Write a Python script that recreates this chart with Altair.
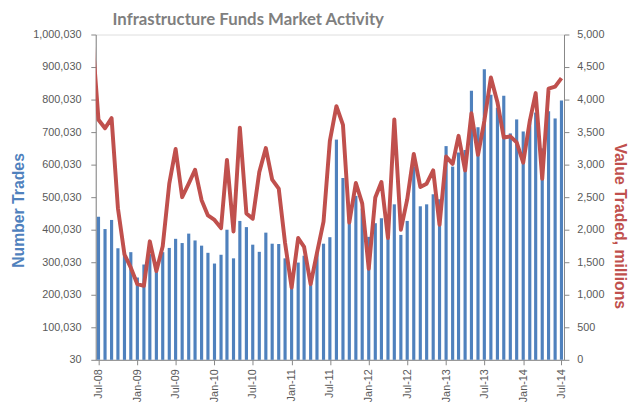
import altair as alt
import pandas as pd

# Monthly categories Jul-08 .. Jul-14
years_months = [(2008 + (6 + i) // 12, (6 + i) % 12 + 1) for i in range(73)]
dates = [f"{y}/{m:02d}/01" for y, m in years_months]

# Number of trades (thousands)
trades_k = [440, 402, 430, 343, 330, 331, 253, 293, 325, 300, 331, 344,
            372, 359, 388, 367, 351, 329, 296, 323, 400, 312, 427, 408,
            354, 332, 391, 357, 356, 312, 230, 299, 320, 240, 330, 357,
            377, 677, 559, 440, 504, 465, 378, 420, 435, 372, 478, 384,
            427, 595, 472, 478, 509, 494, 657, 594, 637, 645, 827, 715,
            893, 815, 775, 812, 696, 739, 702, 740, 760, 650, 764, 742,
            797]

# Value traded (millions)
value_m = [3690, 3559, 3715, 2330, 1619, 1416, 1163, 1137, 1821, 1365, 1745, 2708,
           3240, 2500, 2708, 2921, 2454, 2220, 2150, 2024, 3072, 1973, 3569, 2250,
           2170, 2885, 3255, 2769, 2632, 1796, 1112, 1872, 1735, 1163, 1644, 2125,
           3367, 3899, 3610, 2110, 2718, 2404, 1400, 2495, 2733, 1872, 3696, 2000,
           2465, 3164, 2657, 2708, 2911, 2075, 3124, 3012, 3443, 2911, 3790, 3150,
           3670, 4339, 3960, 3417, 3435, 3342, 3030, 3670, 4100, 2783, 4170, 4200,
           4330]

# preceding month (outside the axis range, clipped)
lead_date = "2008/06/01"
lead_value = 5000

left_ticks = [30 + 100000 * i for i in range(11)]
right_ticks = [500 * i for i in range(11)]

bars_df = pd.DataFrame({"date": dates, "trades": [v * 1000 for v in trades_k]})
line_df = pd.DataFrame({"date": [lead_date] + dates, "value": [lead_value] + value_m})

GRAY = "#595959"
AXIS = "#868686"
BLUE = "#4f81bd"
RED = "#c0504d"

xscale = alt.Scale(domain=[alt.DateTime(year=2008, month=6, date=18),
                           alt.DateTime(year=2014, month=7, date=13)], padding=0)
xaxis = alt.Axis(format="%b-%y", labelAngle=-90, tickCount={"interval": "month", "step": 6},
                 grid=False, title=None, labelFontSize=11, labelColor=GRAY, labelFont="Liberation Sans",
                 domainColor=AXIS, tickColor=AXIS, tickSize=5, labelPadding=4, labelFlush=False)

bars = alt.Chart(bars_df).mark_bar(size=3.2, color=BLUE).encode(
    x=alt.X("date:T", scale=xscale, axis=xaxis),
    y=alt.Y("trades:Q", scale=alt.Scale(domain=[30, 1000030], zero=False, nice=False),
            axis=alt.Axis(values=left_ticks, format=",d", title="Number Trades",
                          titleColor=BLUE, titleFontSize=16, titleFont="Liberation Sans",
                          titleFontWeight="bold", titlePadding=6, titleY=178,
                          labelColor=GRAY, labelFontSize=11, labelFont="Liberation Sans",
                          grid=False, domainColor=AXIS, tickColor=AXIS, tickSize=5,
                          labelPadding=10)),
    y2=alt.datum(30),
)

line = alt.Chart(line_df).mark_line(color=RED, strokeWidth=4, clip=True,
                                    strokeJoin="round").encode(
    x=alt.X("date:T", scale=xscale, axis=xaxis),
    y=alt.Y("value:Q", scale=alt.Scale(domain=[0, 5000], nice=False),
            axis=alt.Axis(orient="right", values=right_ticks, format=",d",
                          title="Value Traded, millions", titleColor=RED, titleFontSize=16,
                          titleFont="Liberation Sans", titleFontWeight="bold", titlePadding=8,
                          titleY=194,
                          labelColor=GRAY, labelFontSize=11, labelFont="Liberation Sans",
                          grid=False, domainColor=AXIS, tickColor=AXIS, tickSize=5,
                          labelPadding=8)),
)

chart = alt.layer(bars, line).resolve_scale(y="independent").properties(
    width=475, height=330,
    title=alt.TitleParams("Infrastructure Funds Market Activity", font="Lato", fontSize=17,
                          fontWeight="bold", color="#7f7f7f", anchor="start", frame="group",
                          dx=17, offset=0),
    padding={"left": 3, "top": 0, "right": 5, "bottom": 5},
).configure_view(stroke=None).configure(background="white")

chart.save("out.html", embed_options={"renderer": "svg", "actions": False})
